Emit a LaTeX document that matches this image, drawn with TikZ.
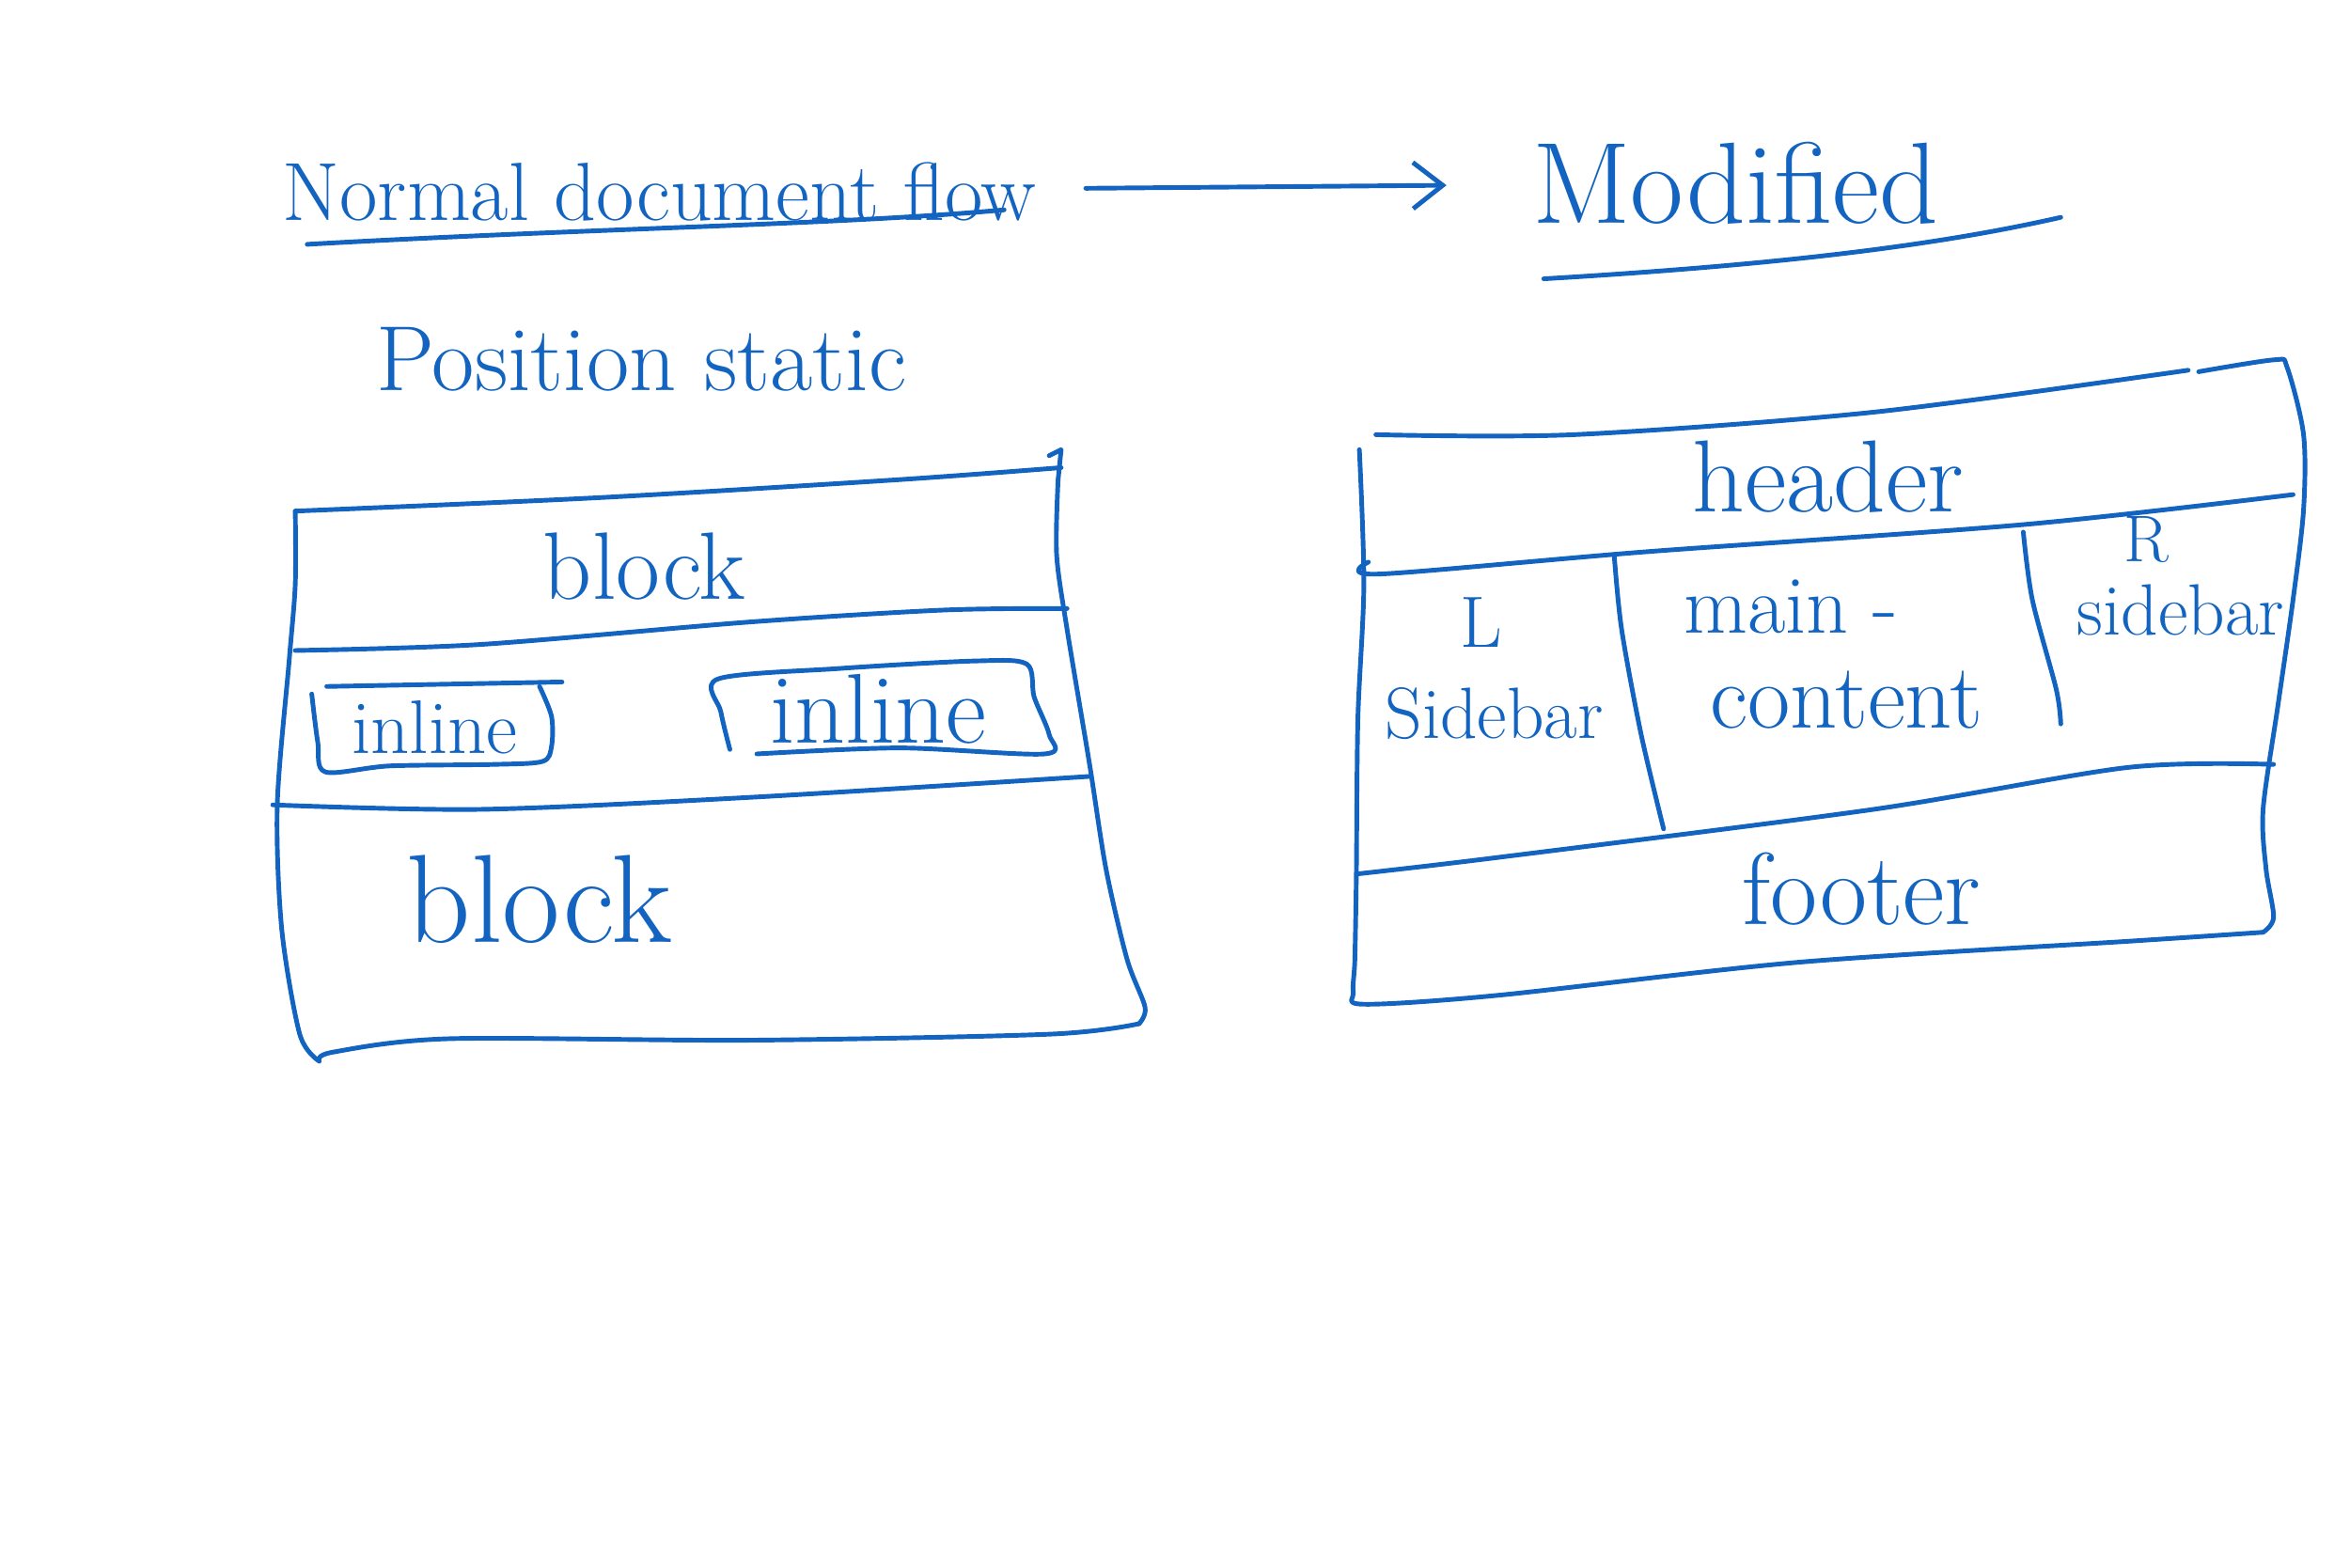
\documentclass[tikz,border=0pt]{standalone}
\usetikzlibrary{arrows.meta}
\definecolor{ink}{RGB}{18,100,192}
\tikzset{
  pen/.style={ink,line width=1.4pt,line cap=round,line join=round},
  word/.style={ink,inner sep=0pt,outer sep=0pt},
}
\newcommand{\hand}[1]{\fontsize{#1}{#1}\selectfont}
\begin{document}
\begin{tikzpicture}[x=0.1594mm,y=-0.1594mm]
\useasboundingbox (0,0) rectangle (1568,1046);
% titles
\node[word,font=\hand{25}] (normal) at (440,128) {Normal document flow};
\node[word,font=\hand{35}] (modified) at (1158,122) {Modified};
\draw[pen,-{Straight Barb[length=9pt,width=14pt]},shorten <=15pt,shorten >=26pt] (normal) -- (modified);
\draw[pen] (205,163) .. controls (400,152) and (560,150) .. (670,140);
\draw[pen] (1030,186) .. controls (1200,176) and (1300,162) .. (1375,145);
\node[word,font=\hand{28}] (static) at (428,240) {Position static};

% left box
\draw[pen] plot[smooth] coordinates {(197,341) (400,332) (600,320) (708,312)};
\draw[pen] (700,304) -- (708,300) -- (706,320);
\draw[pen] plot[smooth] coordinates {(706,320) (705,370) (712,420) (727,510) (738,580) (752,640) (764,672) (760,683)};
\draw[pen] plot[smooth] coordinates {(760,683) (700,690) (500,694) (300,693) (222,702) (213,708)};
\draw[pen] plot[smooth] coordinates {(213,708) (200,690) (188,620) (185,537) (193,440) (197,390) (197,341)};
\draw[pen] plot[smooth] coordinates {(197,434) (320,430) (500,415) (630,407) (712,406)};
\draw[pen] plot[smooth] coordinates {(182,537) (320,540) (500,532) (727,518)};
\node[word,font=\hand{29}] (blocka) at (430,378) {block};
\node[word,font=\hand{38}] (blockb) at (360,600) {block};
% inline boxes
\draw[pen] (218,458) -- (375,455);
\draw[pen] plot[smooth] coordinates {(208,463) (212,495) (217,515) (260,511) (330,510) (362,508) (368,498) (368,478) (360,458)};
\node[word,font=\hand{23}] (inla) at (290,485) {inline};
\draw[pen] plot[smooth] coordinates {(487,500) (481,475) (479,453) (560,446) (650,441) (685,443) (690,465) (700,490) (697,503) (600,499) (505,503)};
\node[word,font=\hand{30}] (inlb) at (586,473) {inline};

% right box
\draw[pen] plot[smooth] coordinates {(918,290) (1050,290) (1250,275) (1460,247)};
\draw[pen] plot[smooth] coordinates {(1467,248) (1518,240) (1526,245) (1537,290) (1537,340) (1530,400) (1520,470) (1510,540) (1512,580) (1517,612) (1510,622)};
\draw[pen] plot[smooth] coordinates {(1510,622) (1420,628) (1200,642) (1000,664) (910,670) (903,662) (904,640) (905,583) (906,480) (910,390) (907,300)};
\draw[pen] plot[smooth] coordinates {(913,375) (920,383) (1100,368) (1350,350) (1530,330)};
\draw[pen] plot[smooth] coordinates {(906,583) (1000,572) (1250,540) (1420,512) (1517,510)};
\draw[pen] plot[smooth] coordinates {(1077,370) (1082,420) (1095,490) (1110,553)};
\draw[pen] plot[smooth] coordinates {(1350,355) (1356,400) (1372,460) (1375,483)};
\node[word,font=\hand{31}] (header) at (1220,318) {header};
\node[word,font=\hand{22}] (lmark) at (988,415) {L};
\node[word,font=\hand{22}] (lside) at (997,476) {Sidebar};
\node[word,font=\hand{25}] (mainw) at (1195,405) {main -};
\node[word,font=\hand{28}] (content) at (1232,467) {content};
\node[word,font=\hand{20}] (rmark) at (1432,360) {R};
\node[word,font=\hand{22}] (rside) at (1455,407) {sidebar};
\node[word,font=\hand{31}] (footer) at (1242,593) {footer};
\end{tikzpicture}
\end{document}
